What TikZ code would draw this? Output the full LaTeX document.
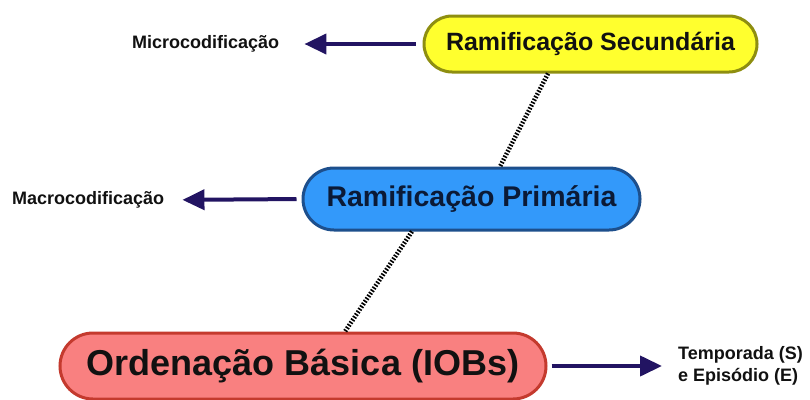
\documentclass[tikz,border=0pt]{standalone}
\usepackage{fontspec}
\setmainfont{Liberation Sans}
\usetikzlibrary{arrows.meta}
\definecolor{ylwfill}{HTML}{FFFF2E}
\definecolor{ylwline}{HTML}{8E8E10}
\definecolor{bluefill}{HTML}{3399FA}
\definecolor{blueline}{HTML}{1D4F8C}
\definecolor{redfill}{HTML}{F98080}
\definecolor{redline}{HTML}{C43A2E}
\definecolor{navy}{HTML}{221462}
\definecolor{txtdark}{HTML}{111111}
\definecolor{bluetxt}{HTML}{0B1A36}
\tikzset{
  pill/.style={draw, line width=3pt, rounded corners=28pt, inner sep=0pt, align=center, font=\bfseries},
  lbl/.style={inner sep=0pt, font=\bfseries\fontsize{18}{22}\selectfont, text=txtdark, align=left},
  arr/.style={draw=navy, line width=4pt, -{Triangle[length=22pt,width=20pt]}},
  dotline/.style={draw=black, line width=4.5pt, dash pattern=on 1.6pt off 1.6pt}
}
\begin{document}
\begin{tikzpicture}[x=1pt,y=-1pt]
\useasboundingbox (0,0) rectangle (810,399);
\fill[white] (0,0) rectangle (810,399);
% nodes
\node[pill, fill=ylwfill, draw=ylwline, text=txtdark, minimum width=333pt, minimum height=56pt,
  font=\bfseries\fontsize{25}{30}\selectfont] (ys) at (590.5,44) {Ramificação Secundária};
\node[pill, fill=bluefill, draw=blueline, text=bluetxt, minimum width=337pt, minimum height=62pt,
  rounded corners=31pt, font=\bfseries\fontsize{28.5}{34}\selectfont] (bp) at (471.5,199) {Ramificação Primária};
\node[pill, fill=redfill, draw=redline, text=txtdark, minimum width=486pt, minimum height=66pt,
  rounded corners=33pt, font=\bfseries\fontsize{36}{42}\selectfont] (ob) at (303,366) {Ordenação Básica (IOBs)};
% labels
\node[lbl, anchor=west] (micro) at (132,44) {Microcodificação};
\node[lbl, anchor=west] (macro) at (12,200) {Macrocodificação};
\node[lbl, anchor=west, font=\bfseries\fontsize{18}{22}\selectfont] (temp) at (678,366) {Temporada (S)\\e Episódio (E)};
% arrows
\draw[arr, shorten <=7pt, shorten >=25pt] (ys.west) -- (micro.east);
\draw[arr, shorten <=5pt, shorten >=18pt] (bp.west) -- (macro.east);
\draw[arr, shorten <=4pt, shorten >=16pt] (ob.east) -- (temp.west);
% dotted links
\draw[dotline] ([xshift=-42.5pt]ys.south) -- ([xshift=28.5pt]bp.north);
\draw[dotline] ([xshift=-59.5pt]bp.south) -- ([xshift=42pt]ob.north);
\end{tikzpicture}
\end{document}
